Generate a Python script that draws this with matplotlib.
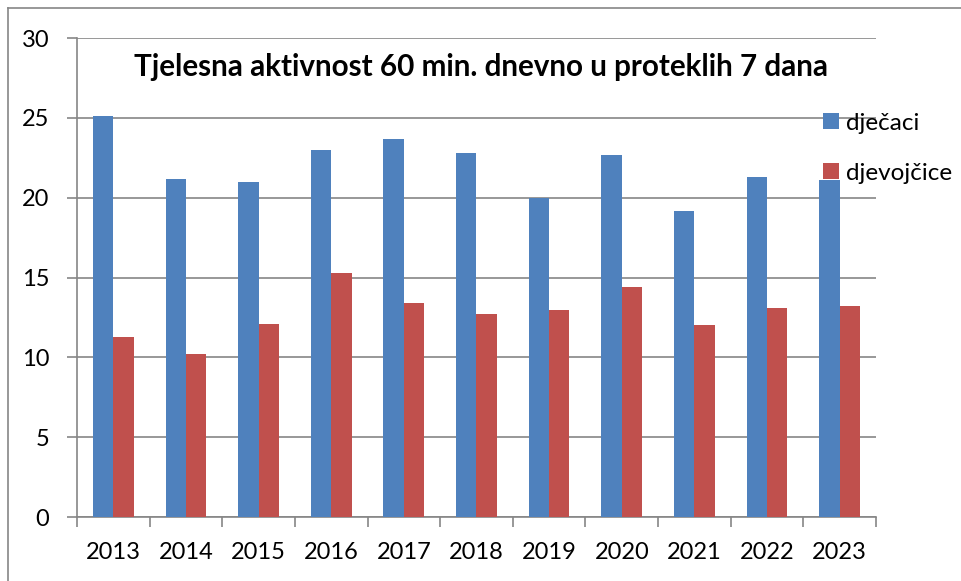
import numpy as np
import matplotlib.pyplot as plt
from matplotlib.lines import Line2D

years = ['2013', '2014', '2015', '2016', '2017', '2018', '2019', '2020', '2021', '2022', '2023']
djecaci = [25.1, 21.2, 21.0, 23.0, 23.7, 22.8, 20.0, 22.7, 19.2, 21.3, 21.1]
djevojcice = [11.3, 10.2, 12.1, 15.3, 13.4, 12.7, 13.0, 14.4, 12.0, 13.1, 13.2]
series_names = ['dječaci', 'djevojčice']
title = 'Tjelesna aktivnost 60 min. dnevno u proteklih 7 dana'

plt.rcParams['font.family'] = ['Lato', 'DejaVu Sans']
grey = '#868686'

fig = plt.figure(figsize=(9.62, 5.81), dpi=100)
ax = fig.add_axes([0.080, 0.110, 0.8306, 0.8244])

x = np.arange(len(years))
w = 0.28
ax.bar(x - w / 2, djecaci, w, color='#4F81BD', label=series_names[0], zorder=3)
ax.bar(x + w / 2, djevojcice, w, color='#C0504D', label=series_names[1], zorder=3)

ax.set_xlim(-0.5, len(years) - 0.5)
ax.set_ylim(0, 30)
ax.set_yticks(range(0, 31, 5))
ax.yaxis.grid(True, color=grey, linewidth=1.2, zorder=0)

ax.set_xticks(x)
ax.set_xticklabels(years)
ax.set_xticks(np.arange(-0.5, len(years)), minor=True)
ax.tick_params(axis='x', which='major', length=0, pad=18, labelsize=17)
ax.tick_params(axis='x', which='minor', length=7, width=1.2, color=grey, direction='out')
ax.tick_params(axis='y', length=7, width=1.2, color=grey, pad=13, labelsize=17)

for s in ['top', 'right']:
    ax.spines[s].set_visible(False)
for s in ['left', 'bottom']:
    ax.spines[s].set_color(grey)
    ax.spines[s].set_linewidth(1.2)

fig.text(0.5, 0.885, title, ha='center', va='center', fontsize=21.3, fontweight='bold')

fig.legend(loc='upper left', bbox_to_anchor=(0.856, 0.806), frameon=False,
           fontsize=17.5, handlelength=0.62, handleheight=0.62,
           handletextpad=0.3, labelspacing=1.2, borderaxespad=0, borderpad=0)

# outer chart frame (cut off at right and bottom)
fig.add_artist(Line2D([8 / 962, 8 / 962], [0, 1 - 8 / 581], color=grey, linewidth=1.2))
fig.add_artist(Line2D([8 / 962, 1], [1 - 8 / 581, 1 - 8 / 581], color=grey, linewidth=1.2))

fig.savefig('out.png', dpi=100)
